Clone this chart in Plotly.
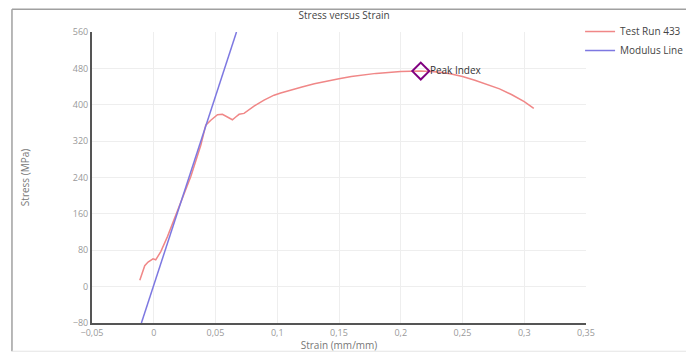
import plotly.graph_objects as go

# Test Run 433 (strain mm/mm, stress MPa)
strain = [-0.0113, -0.0100, -0.0073, -0.0046, -0.0006, 0.0016, 0.0057, 0.0111, 0.0178,
          0.0219, 0.0300, 0.0381, 0.0421, 0.0462, 0.0516, 0.0556, 0.0597, 0.0637, 0.0664,
          0.0691, 0.0731, 0.0772, 0.0812, 0.0893, 0.0974, 0.1028, 0.11, 0.12, 0.13, 0.14,
          0.15, 0.16, 0.17, 0.18, 0.19, 0.20, 0.2162, 0.23, 0.24, 0.25, 0.26, 0.27, 0.28,
          0.29, 0.30, 0.3077]
stress = [14, 23, 46, 54, 61, 59, 77, 110, 158,
          187, 242, 311, 355, 366, 378, 379, 373, 367, 373,
          379, 381, 389, 397, 410, 421, 426, 432, 439, 446, 452,
          457, 462, 466, 469, 471, 473, 474, 472, 468, 462, 454, 445, 435,
          422, 407, 392]

# Modulus line
mod_strain = [-0.0100, 0.0670]
mod_stress = [-80, 560]

# Peak
peak_strain = [0.2162]
peak_stress = [474]

x_ticks = [-0.05, 0, 0.05, 0.1, 0.15, 0.2, 0.25, 0.3, 0.35]
y_ticks = [-80, 0, 80, 160, 240, 320, 400, 480, 560]

fig = go.Figure()
fig.add_trace(go.Scatter(x=strain, y=stress, mode="lines", name="Test Run 433",
                         line=dict(color="rgb(240,135,135)", width=1.5)))
fig.add_trace(go.Scatter(x=mod_strain, y=mod_stress, mode="lines", name="Modulus Line",
                         line=dict(color="rgb(125,120,225)", width=1.5)))
fig.add_trace(go.Scatter(x=peak_strain, y=peak_stress, mode="markers+text", name="Peak",
                         showlegend=False, text=["Peak Index"], textposition="middle right",
                         textfont=dict(size=10, color="#333"),
                         marker=dict(symbol="diamond-open", size=13, color="#800080",
                                     line=dict(width=2, color="#800080"))))

frame = dict(color="#a0a0a0", width=1.5)
fig.update_layout(
    width=686, height=344,
    margin=dict(l=84, r=108, t=24, b=29, autoexpand=False),
    paper_bgcolor="white", plot_bgcolor="white",
    separators=", ",
    font=dict(family="Open Sans", size=9, color="#888"),
    title=dict(text="Stress versus Strain", x=0.49, xanchor="center", y=0.977, yanchor="middle",
               font=dict(size=10, color="#444")),
    legend=dict(x=0.988, y=1.0515, xanchor="left", yanchor="top", bgcolor="rgba(0,0,0,0)",
                font=dict(size=10, color="#444"), tracegroupgap=0, itemwidth=30),
    showlegend=True,
    xaxis=dict(range=[-0.05, 0.35], tickvals=x_ticks, showgrid=True, gridcolor="#eeeeee",
               zeroline=False, showline=True, linecolor="#555", linewidth=2,
               title=dict(text="Strain (mm/mm)", standoff=0, font=dict(size=10, color="#777")),
               tickfont=dict(size=9, color="#999")),
    yaxis=dict(range=[-80, 560], tickvals=y_ticks, showgrid=True, gridcolor="#eeeeee",
               zeroline=False, showline=True, linecolor="#555", linewidth=2,
               title=dict(text="Stress (MPa)", standoff=41, font=dict(size=10, color="#777")),
               tickfont=dict(size=9, color="#999")),
    shapes=[
        dict(type="line", xref="paper", yref="paper", x0=-0.162, x1=-0.162,
             y0=-0.097, y1=1.078, line=frame, layer="above"),
        dict(type="line", xref="paper", yref="paper", x0=-0.162, x1=1.218,
             y0=1.078, y1=1.078, line=frame, layer="above"),
        dict(type="line", xref="paper", yref="paper", x0=-0.162, x1=1.218,
             y0=-0.097, y1=-0.097, line=dict(color="#e4e4e4", width=1), layer="above"),
    ],
)

fig.write_html("out.html")
